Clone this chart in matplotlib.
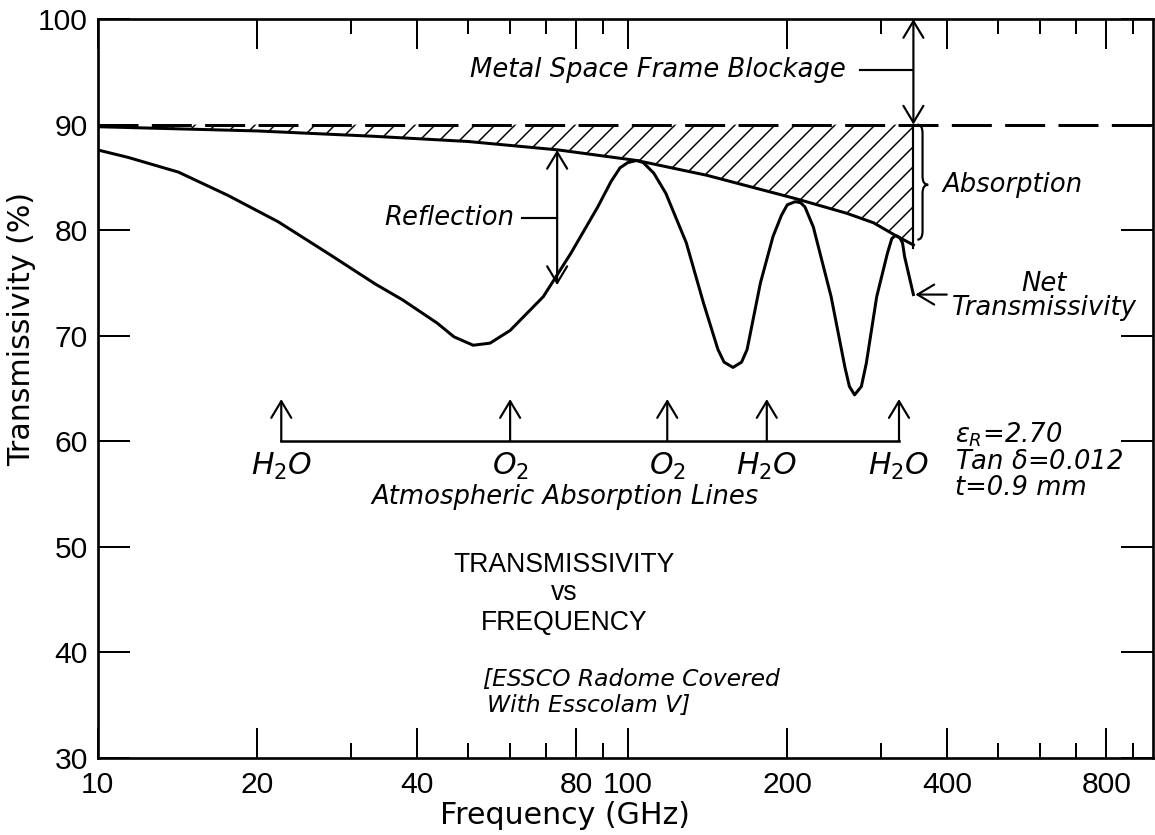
import numpy as np
import matplotlib
matplotlib.use("Agg")
import matplotlib.pyplot as plt
from matplotlib.path import Path
from matplotlib.patches import PathPatch

plt.rcParams['lines.scale_dashes'] = False
plt.rcParams['hatch.linewidth'] = 0.9
plt.rcParams['mathtext.fontset'] = 'dejavusans'

# upper curve: transmissivity with reflection removed (90% minus absorption)
upper_freq = [10, 20, 33, 50, 74, 104, 141, 207, 259, 291, 320, 346]
upper_val = [89.8, 89.4, 88.9, 88.4, 87.6, 86.6, 85.2, 83.0, 81.6, 80.7, 79.5, 78.6]

# net transmissivity
net_freq = [10, 11.4, 14.2, 17.6, 21.9, 27.2, 33.4, 37.6, 43.7, 47, 51.1, 55, 60, 69.3,
            78.1, 87.8, 93, 96.7, 100, 104, 107, 112, 118, 129, 139, 148, 152, 158, 164, 168,
            178, 188, 195, 200, 207, 212, 216, 224, 242, 257, 262, 268, 276, 282, 295, 309,
            315, 320, 326, 330, 333, 346]
net_val = [87.6, 86.9, 85.5, 83.3, 80.8, 77.8, 74.9, 73.4, 71.2, 69.9, 69.1, 69.3, 70.5, 73.7,
           77.8, 82.2, 84.6, 85.9, 86.4, 86.6, 86.4, 85.4, 83.5, 78.8, 73.1, 68.7, 67.5, 67.0,
           67.5, 68.7, 75.0, 79.4, 81.4, 82.4, 82.7, 82.6, 82.2, 80.3, 73.7, 67.0, 65.2, 64.4,
           65.2, 67.4, 73.7, 77.8, 79.2, 79.5, 79.3, 78.8, 77.5, 73.9]

# atmospheric absorption lines
line_freq = [22.2, 60, 118.75, 183, 325]
line_names = [r'$\mathit{H_2O}$', r'$\mathit{O_2}$', r'$\mathit{O_2}$',
              r'$\mathit{H_2O}$', r'$\mathit{H_2O}$']

x_major = [10, 20, 40, 80, 100, 200, 400, 800]
x_minor = [30, 50, 60, 70, 90, 300, 500, 600, 700, 900]
y_major = [30, 40, 50, 60, 70, 80, 90, 100]

fig = plt.figure(figsize=(1155/120, 835/120), dpi=120)
ax = fig.add_axes([0.0846, 0.0922, 0.9137, 0.885])
ax.set_xscale('log')
ax.set_xlim(10, 980)
ax.set_ylim(30, 100)

lw = 1.8
ax.plot(upper_freq, upper_val, color='k', lw=lw)
ax.plot(net_freq, net_val, color='k', lw=lw)
ax.fill_between(upper_freq, upper_val, 90, facecolor='none', edgecolor='k',
                hatch='//', linewidth=0)
ax.axhline(90, color='k', lw=lw, dashes=(24, 8))
ax.plot([upper_freq[-1], upper_freq[-1]], [90, upper_val[-1] - 0.3], color='k', lw=1.3)

tfont = ['Liberation Sans', 'DejaVu Sans']
ax.set_xticks(x_major, [str(v) for v in x_major])
ax.set_xticks(x_minor, ['' for v in x_minor], minor=True)
ax.set_yticks(y_major, [str(v) for v in y_major])
ax.yaxis.set_minor_locator(matplotlib.ticker.NullLocator())
for lab in ax.get_xticklabels() + ax.get_yticklabels():
    lab.set_family(tfont)
    lab.set_fontsize(18)
ax.tick_params(axis='x', which='major', direction='in', length=18, width=1.2,
               top=True, pad=8)
ax.tick_params(axis='x', which='minor', direction='in', length=9, width=1.2, top=True)
ax.tick_params(axis='y', which='major', direction='in', length=19, width=1.2,
               right=True, pad=6)
for s in ax.spines.values():
    s.set_linewidth(1.6)

ax.set_xlabel('Frequency (GHz)', fontsize=18, family='DejaVu Sans')
ax.xaxis.set_label_coords(0.443, -0.058)
ax.set_ylabel('Transmissivity (%)', fontsize=18, family='DejaVu Sans')
ax.yaxis.set_label_coords(-0.058, 0.58)

it = dict(style='italic', fontsize=15.5, family='DejaVu Sans', color='k')
ap = dict(color='k', lw=1.3, shrinkA=0, shrinkB=0, mutation_scale=20)

# metal space frame blockage
ax.text(258, 95.2, 'Metal Space Frame Blockage', ha='right', va='center', **it)
ax.plot([274, 346], [95.2, 95.2], color='k', lw=1.3)
ax.annotate('', xy=(346, 100), xytext=(346, 90),
            arrowprops=dict(arrowstyle='<->,head_length=0.5,head_width=0.3', **ap))

# reflection
ax.text(61, 81.2, 'Reflection', ha='right', va='center', **it)
ax.plot([63.2, 73.6], [81.2, 81.2], color='k', lw=1.3)
ax.annotate('', xy=(73.6, 87.6), xytext=(73.6, 74.8),
            arrowprops=dict(arrowstyle='<->,head_length=0.5,head_width=0.3', **ap))

# absorption brace
verts = [(352, 90.0), (360, 90.0), (360, 89.2), (360, 85.1), (360, 84.3), (369, 84.3),
         (360, 84.3), (360, 83.5), (360, 79.9), (360, 79.1), (352, 79.1)]
codes = [Path.MOVETO, Path.CURVE3, Path.CURVE3, Path.LINETO, Path.CURVE3, Path.CURVE3,
         Path.CURVE3, Path.CURVE3, Path.LINETO, Path.CURVE3, Path.CURVE3]
ax.add_patch(PathPatch(Path(verts, codes), facecolor='none', edgecolor='k', lw=1.3))
ax.text(392, 84.3, 'Absorption', ha='left', va='center', **it)

# net transmissivity
ax.annotate('', xy=(349, 73.9), xytext=(400, 73.9),
            arrowprops=dict(arrowstyle='->,head_length=0.5,head_width=0.3', **ap))
ax.text(611, 74.9, 'Net', ha='center', va='center', **it)
ax.text(611, 72.6, 'Transmissivity', ha='center', va='center', **it)

# atmospheric absorption lines
ax.plot([line_freq[0], line_freq[-1]], [60, 60], color='k', lw=1.5)
for f, name in zip(line_freq, line_names):
    ax.annotate('', xy=(f, 64), xytext=(f, 60),
                arrowprops=dict(arrowstyle='->,head_length=0.5,head_width=0.3', **ap))
    ax.text(f, 57.6, name, ha='center', va='center', fontsize=18)
ax.text(76, 54.7, 'Atmospheric Absorption Lines', ha='center', va='center', **it)

# material parameters
ax.text(415, 60.6, r'$\epsilon_R$=2.70', ha='left', va='center', **it)
ax.text(415, 58.0, r'Tan $\delta$=0.012', ha='left', va='center', **it)
ax.text(415, 55.6, 't=0.9 mm', ha='left', va='center', **it)

# title block
for v, s in zip([48.3, 45.6, 42.8], ['TRANSMISSIVITY', 'vs', 'FREQUENCY']):
    ax.text(76, v, s, ha='center', va='center', fontsize=16, family=tfont)
it2 = dict(it, fontsize=14)
ax.text(53.3, 37.4, '[ESSCO Radome Covered', ha='left', va='center', **it2)
ax.text(54.3, 35.0, 'With Esscolam \u2164]', ha='left', va='center', **it2)

fig.savefig('out.png', dpi=120)
